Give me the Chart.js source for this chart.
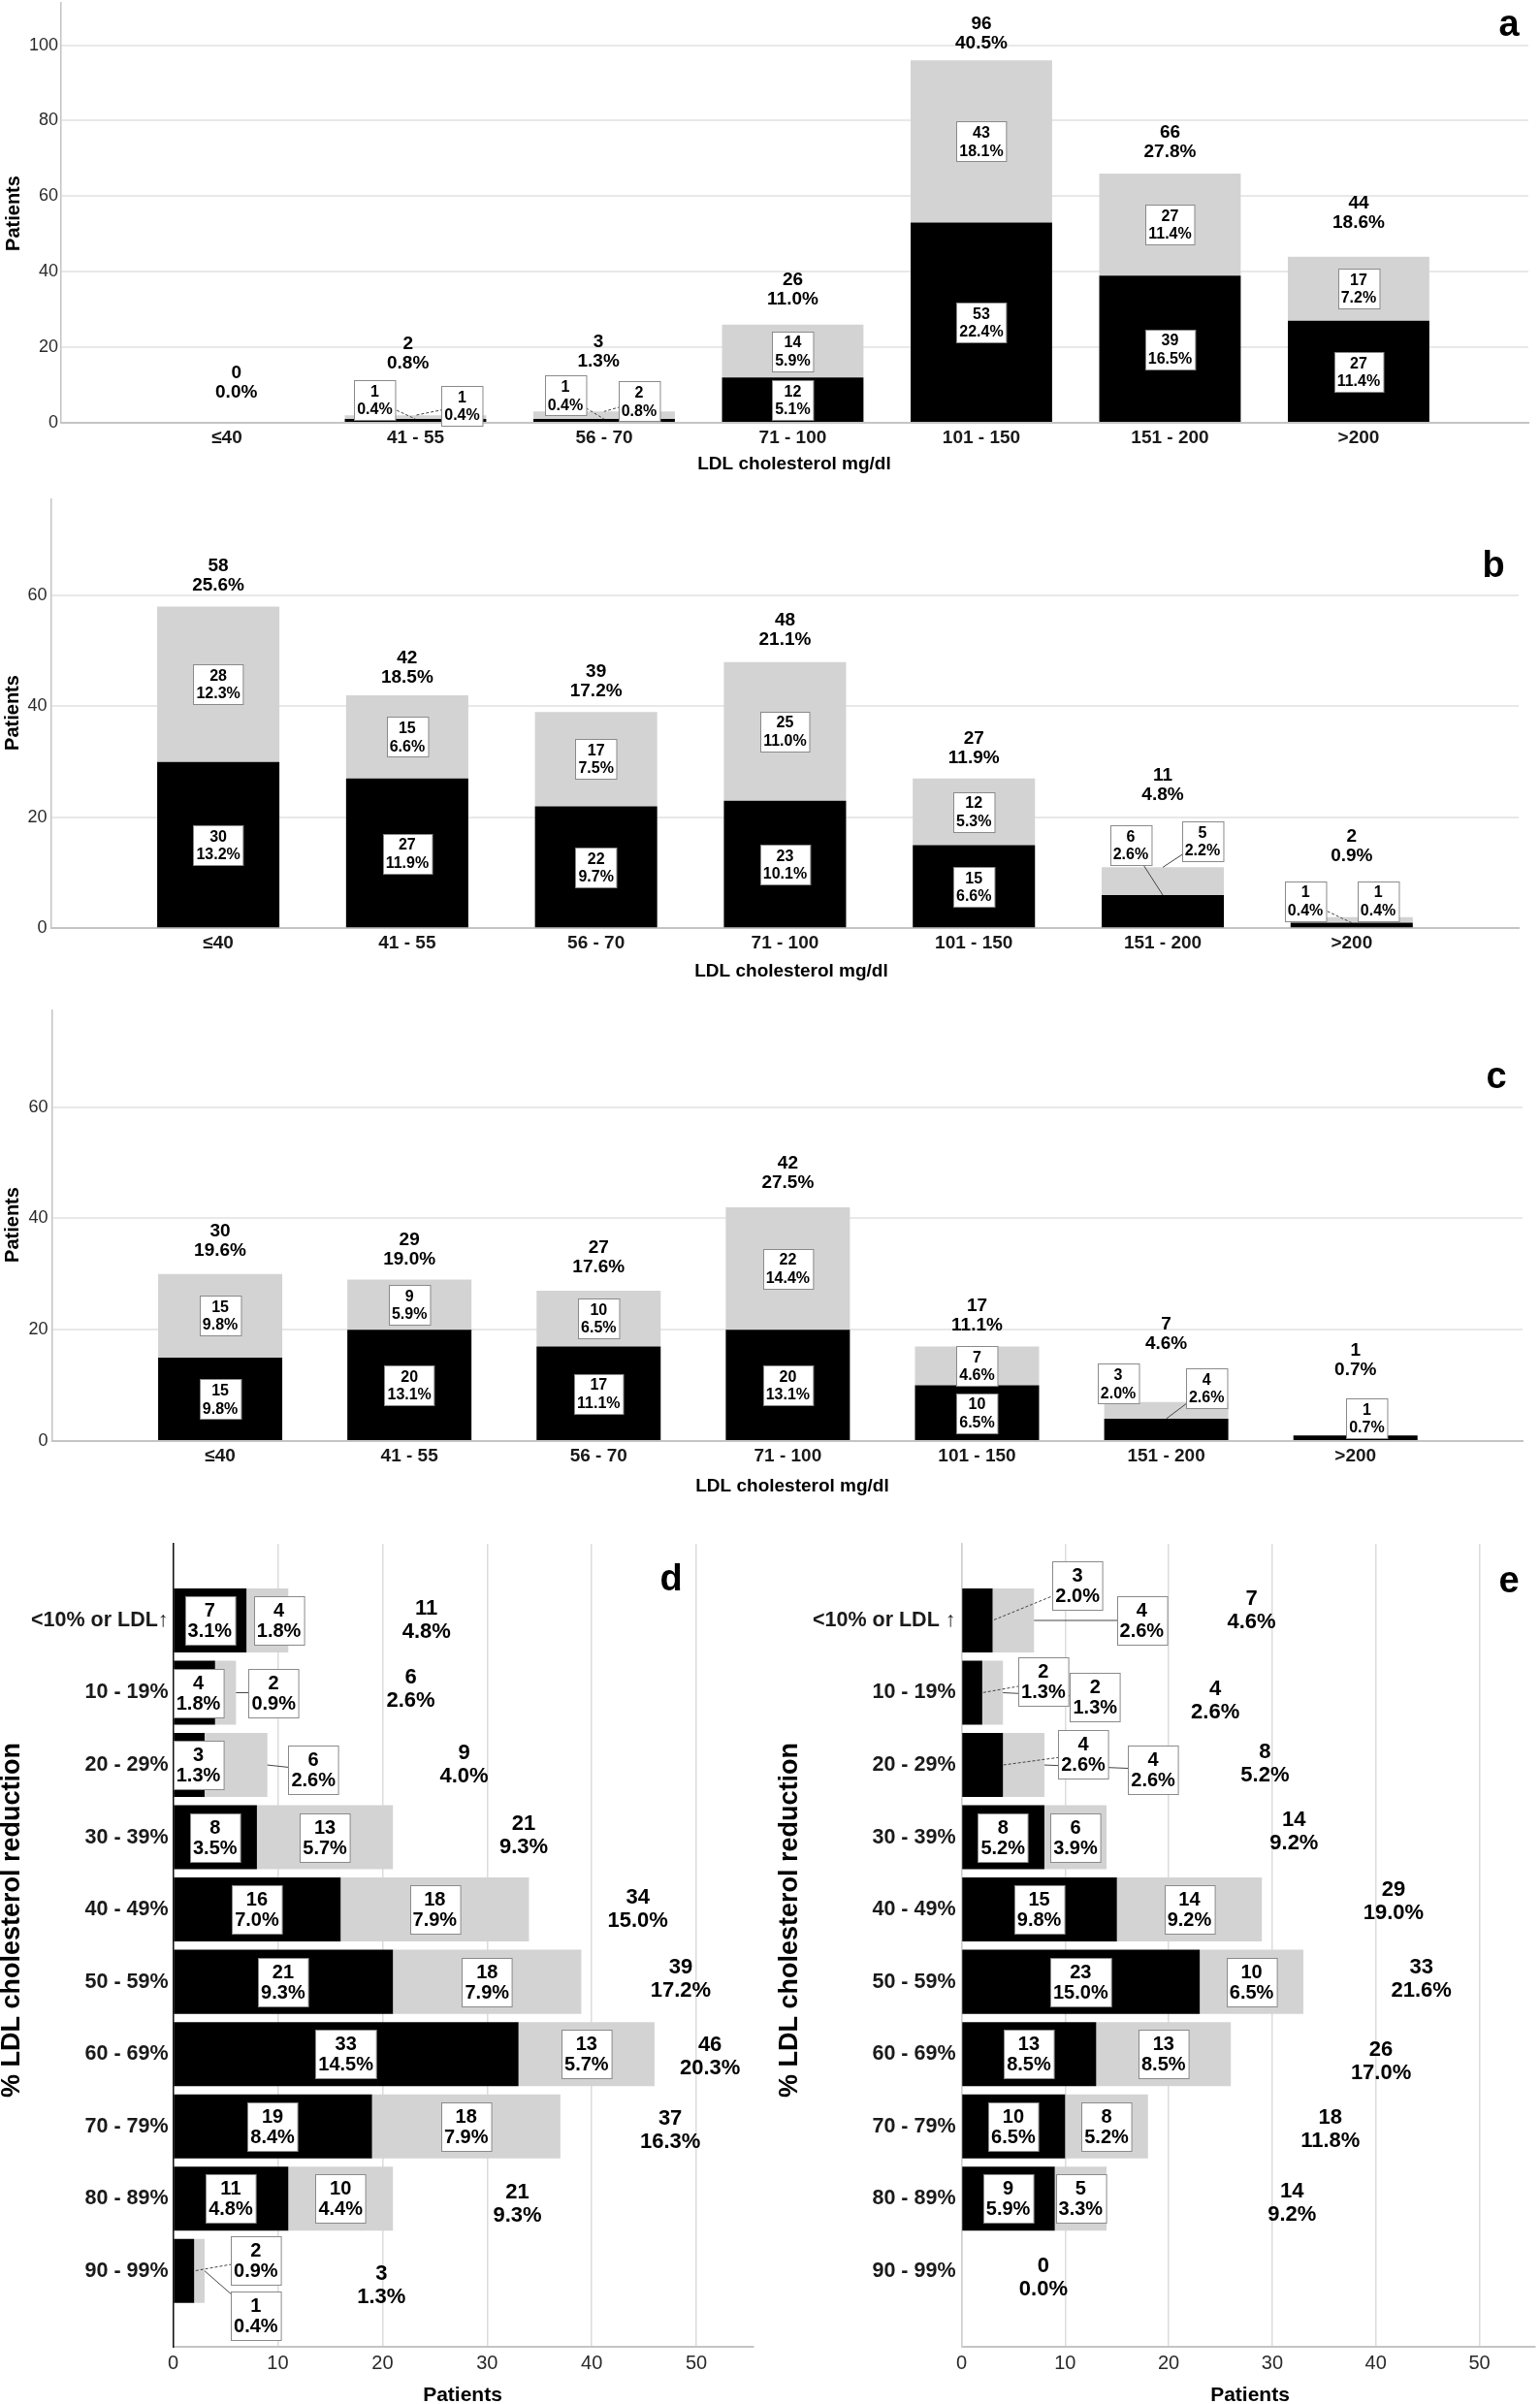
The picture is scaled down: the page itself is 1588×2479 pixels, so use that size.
<!DOCTYPE html>
<html>
<head>
<meta charset="utf-8">
<script src="https://cdn.jsdelivr.net/npm/chart.js@4.4.1/dist/chart.umd.min.js"></script>
<style>
html,body{margin:0;padding:0;background:#fff;}
body{width:1588px;height:2479px;position:relative;overflow:hidden;}
canvas{position:absolute;display:block;}
</style>
</head>
<body>
<canvas id="cA" width="1588" height="500" style="left:0;top:0"></canvas>
<canvas id="cB" width="1588" height="530" style="left:0;top:500px"></canvas>
<canvas id="cC" width="1588" height="530" style="left:0;top:1030px"></canvas>
<canvas id="cD" width="790" height="919" style="left:0;top:1560px"></canvas>
<canvas id="cE" width="798" height="919" style="left:790px;top:1560px"></canvas>
<script>
// ---------------- DATA ----------------
const ldlCategories = ['≤40', '41 - 55', '56 - 70', '71 - 100', '101 - 150', '151 - 200', '>200'];
const patientTicksA = [0, 20, 40, 60, 80, 100];
const patientTicksBC = [0, 20, 40, 60];

const aBlack = [0, 1, 1, 12, 53, 39, 27];
const aBlackPct = [0.0, 0.4, 0.4, 5.1, 22.4, 16.5, 11.4];
const aGray = [0, 1, 2, 14, 43, 27, 17];
const aGrayPct = [0.0, 0.4, 0.8, 5.9, 18.1, 11.4, 7.2];
const aTotal = [0, 2, 3, 26, 96, 66, 44];
const aTotalPct = [0.0, 0.8, 1.3, 11.0, 40.5, 27.8, 18.6];

const bBlack = [30, 27, 22, 23, 15, 6, 1];
const bBlackPct = [13.2, 11.9, 9.7, 10.1, 6.6, 2.6, 0.4];
const bGray = [28, 15, 17, 25, 12, 5, 1];
const bGrayPct = [12.3, 6.6, 7.5, 11.0, 5.3, 2.2, 0.4];
const bTotal = [58, 42, 39, 48, 27, 11, 2];
const bTotalPct = [25.6, 18.5, 17.2, 21.1, 11.9, 4.8, 0.9];

const cBlack = [15, 20, 17, 20, 10, 4, 1];
const cBlackPct = [9.8, 13.1, 11.1, 13.1, 6.5, 2.6, 0.7];
const cGray = [15, 9, 10, 22, 7, 3, 0];
const cGrayPct = [9.8, 5.9, 6.5, 14.4, 4.6, 2.0, 0.0];
const cTotal = [30, 29, 27, 42, 17, 7, 1];
const cTotalPct = [19.6, 19.0, 17.6, 27.5, 11.1, 4.6, 0.7];

const reductionCategoriesD = ['<10% or LDL↑', '10 - 19%', '20 - 29%', '30 - 39%', '40 - 49%', '50 - 59%', '60 - 69%', '70 - 79%', '80 - 89%', '90 - 99%'];
const reductionCategoriesE = ['<10% or LDL ↑', '10 - 19%', '20 - 29%', '30 - 39%', '40 - 49%', '50 - 59%', '60 - 69%', '70 - 79%', '80 - 89%', '90 - 99%'];
const patientTicksDE = [0, 10, 20, 30, 40, 50];

const dBlack = [7, 4, 3, 8, 16, 21, 33, 19, 11, 2];
const dBlackPct = [3.1, 1.8, 1.3, 3.5, 7.0, 9.3, 14.5, 8.4, 4.8, 0.9];
const dGray = [4, 2, 6, 13, 18, 18, 13, 18, 10, 1];
const dGrayPct = [1.8, 0.9, 2.6, 5.7, 7.9, 7.9, 5.7, 7.9, 4.4, 0.4];
const dTotal = [11, 6, 9, 21, 34, 39, 46, 37, 21, 3];
const dTotalPct = [4.8, 2.6, 4.0, 9.3, 15.0, 17.2, 20.3, 16.3, 9.3, 1.3];

const eBlack = [3, 2, 4, 8, 15, 23, 13, 10, 9, 0];
const eBlackPct = [2.0, 1.3, 2.6, 5.2, 9.8, 15.0, 8.5, 6.5, 5.9, 0.0];
const eGray = [4, 2, 4, 6, 14, 10, 13, 8, 5, 0];
const eGrayPct = [2.6, 1.3, 2.6, 3.9, 9.2, 6.5, 8.5, 5.2, 3.3, 0.0];
const eTotal = [7, 4, 8, 14, 29, 33, 26, 18, 14, 0];
const eTotalPct = [4.6, 2.6, 5.2, 9.2, 19.0, 21.6, 17.0, 11.8, 9.2, 0.0];

// ---------------- LABEL LAYOUT (annotation placement, in axis units) ----------------
const placeA = {'0:1': {i: 0.784, v: 6.0, leader: 'dash'}, '1:1': {i: 1.247, v: 4.5, leader: 'dash'},
                '0:2': {i: 1.794, v: 7.2, leader: 'dash'}, '1:2': {i: 2.185, v: 5.65, leader: 'dash'}};
const totalPosA = {i: [0.05, 0.96, 1.97, 3, 4, 5, 6], v: [10.5, 18.2, 18.9, 35.2, 103, 74.2, 55.5]};
const placeB = {'0:5': {i: 4.83, v: 15.0, leader: 'solid'}, '1:5': {i: 5.21, v: 15.7, leader: 'solid'},
                '0:6': {i: 5.755, v: 4.94, leader: 'dash'}, '1:6': {i: 6.14, v: 4.94}};
const totalPosB = {i: [0, 1, 2, 3, 4, 5, 6], v: [63.6, 47.0, 44.5, 53.7, 32.4, 25.7, 14.7]};
const placeC = {'1:5': {i: 4.746, v: 10.3}, '0:5': {i: 5.213, v: 9.46, leader: 'solid'}, '0:6': {i: 6.06, v: 4.1}};
const totalPosC = {i: [0, 1, 2, 3, 4, 5, 6], v: [35.9, 34.4, 33.0, 48.1, 22.5, 19.2, 14.5]};
const placeD = {'1:0': {v: 10.1}, '0:1': {v: 2.4}, '1:1': {v: 9.6, leader: 'solid'}, '0:2': {v: 2.4},
                '1:2': {i: 2.07, v: 13.4, leader: 'solid'}, '0:9': {i: 8.85, v: 7.9, leader: 'dash'},
                '1:9': {i: 9.62, v: 7.9, leader: 'solid'}};
const totalPosD = {i: [0, 0.95, 2, 2.98, 4, 4.97, 6.04, 7.06, 8.08, 9.2], v: [24.2, 22.7, 27.8, 33.5, 44.4, 48.5, 51.3, 47.5, 32.9, 19.9]};
const placeE = {'0:0': {i: -0.48, v: 11.2, leader: 'dash'}, '1:0': {i: 0, v: 17.4, leader: 'solid'},
                '0:1': {i: 0.85, v: 7.9, leader: 'dash'}, '1:1': {i: 1.06, v: 12.9, leader: 'solid'},
                '0:2': {i: 1.85, v: 11.75, leader: 'dash'}, '1:2': {i: 2.06, v: 18.5, leader: 'solid'}};
const totalPosE = {i: [-0.13, 1.11, 1.98, 2.93, 3.89, 4.96, 6.1, 7.05, 8.07, 9.09], v: [28.0, 24.5, 29.3, 32.1, 41.7, 44.4, 40.5, 35.6, 31.9, 7.9]};

// ---------------- RENDERING ----------------
const FAM = "'Liberation Sans', Arial, Helvetica, sans-serif";
const BLACK = '#000000', GRAY = '#d3d3d3';

function overlayPlugin(cfg) {
  return {
    id: 'overlay',
    afterDatasetsDraw(chart) {
      const ctx = chart.ctx;
      const horiz = chart.options.indexAxis === 'y';
      const iS = horiz ? chart.scales.y : chart.scales.x;
      const vS = horiz ? chart.scales.x : chart.scales.y;
      const px = (i, v) => horiz ? [vS.getPixelForValue(v), iS.getPixelForValue(i)]
                                 : [iS.getPixelForValue(i), vS.getPixelForValue(v)];
      ctx.save();
      const segs = [];
      cfg.series.forEach((ser, d) => {
        ser.n.forEach((n, i) => {
          if (!n) return;
          const start = d === 0 ? 0 : cfg.series[0].n[i];
          const end = start + n;
          const ov = cfg.place[d + ':' + i] || {};
          const ci = ov.i !== undefined ? ov.i : i;
          const cv = ov.v !== undefined ? ov.v : (start + end) / 2;
          const [x, y] = px(ci, cv);
          let leader = null;
          if (ov.leader) {
            const [lx, ly] = px(i, end);
            leader = {lx, ly, dash: ov.leader === 'dash'};
          }
          segs.push({x, y, lines: [String(n), ser.pct[i].toFixed(1) + '%'], leader});
        });
      });
      ctx.lineWidth = 1;
      segs.forEach(s => {
        if (!s.leader) return;
        ctx.strokeStyle = '#444';
        ctx.setLineDash(s.leader.dash ? [3, 2] : []);
        ctx.beginPath(); ctx.moveTo(s.x, s.y); ctx.lineTo(s.leader.lx, s.leader.ly); ctx.stroke();
      });
      ctx.setLineDash([]);
      ctx.font = cfg.boxFont;
      ctx.textAlign = 'center'; ctx.textBaseline = 'middle';
      segs.forEach(s => {
        const w = Math.max(...s.lines.map(t => ctx.measureText(t).width)) + 2 * cfg.padX;
        const h = s.lines.length * cfg.lh + 2 * cfg.padY;
        const x0 = Math.round(s.x - w / 2) + 0.5, y0 = Math.round(s.y - h / 2) + 0.5;
        ctx.fillStyle = '#fff'; ctx.fillRect(x0, y0, w, h);
        ctx.strokeStyle = '#8a8a8a'; ctx.strokeRect(x0, y0, w, h);
        ctx.fillStyle = '#000';
        s.lines.forEach((t, k) => ctx.fillText(t, s.x, s.y + (k - (s.lines.length - 1) / 2) * cfg.lh + 1));
      });
      ctx.font = cfg.totalFont;
      ctx.fillStyle = '#000';
      cfg.total.forEach((n, i) => {
        const [x, y] = px(cfg.totalPos.i[i], cfg.totalPos.v[i]);
        ctx.fillText(String(n), x, y - cfg.totalLh / 2);
        ctx.fillText(cfg.totalPct[i].toFixed(1) + '%', x, y + cfg.totalLh / 2);
      });
      ctx.restore();
    },
    afterDraw(chart) {
      const ctx = chart.ctx;
      ctx.save();
      cfg.texts.forEach(t => {
        ctx.save();
        ctx.font = t.font; ctx.fillStyle = '#000';
        ctx.textAlign = 'center'; ctx.textBaseline = t.base || 'middle';
        ctx.translate(t.x, t.y);
        if (t.rot) ctx.rotate(t.rot);
        ctx.fillText(t.t, 0, 0);
        ctx.restore();
      });
      ctx.restore();
    }
  };
}

function verticalPanel(id, P) {
  const W = P.W, H = P.H, A = P.area;
  return new Chart(document.getElementById(id), {
    type: 'bar',
    data: {
      datasets: [
        {label: 'black', data: P.black.map((v, i) => ({x: i, y: v})), backgroundColor: BLACK, borderWidth: 0,
         barPercentage: P.barPct, categoryPercentage: 1},
        {label: 'gray', data: P.gray.map((v, i) => ({x: i, y: v})), backgroundColor: GRAY, borderWidth: 0,
         barPercentage: P.barPct, categoryPercentage: 1}
      ]
    },
    options: {
      responsive: false, animation: false, devicePixelRatio: 1,
      layout: {padding: {left: 0, top: A.top, right: W - A.right, bottom: 0}},
      plugins: {legend: {display: false}, tooltip: {enabled: false}},
      scales: {
        x: {
          type: 'linear', position: 'bottom', stacked: true, offset: false, min: P.xMin, max: P.xMax,
          afterBuildTicks: s => { s.ticks = P.cats.map((c, i) => ({value: i})); },
          afterFit: s => { s.height = H - A.bottom; s.paddingLeft = 0; s.paddingRight = 0; },
          ticks: {callback: v => P.cats[v], autoSkip: false, maxRotation: 0, minRotation: 0, padding: P.xTickPad,
                  font: {family: FAM, size: 19, weight: 'bold'}, color: '#1a1a1a'},
          grid: {display: false, drawTicks: false, offset: false},
          border: {display: true, color: '#c4c4c4', width: 2}
        },
        y: {
          type: 'linear', position: 'left', stacked: true, min: 0, max: P.yMax,
          afterBuildTicks: s => { s.ticks = P.yTicks.map(v => ({value: v})); },
          afterFit: s => { s.width = A.left; s.paddingTop = 0; s.paddingBottom = 0; },
          ticks: {padding: P.yTickPad, font: {family: FAM, size: 18}, color: '#2a2a2a'},
          grid: {color: '#e8e8e8', lineWidth: 2, drawTicks: false},
          border: {display: true, color: '#c4c4c4', width: 1.5}
        }
      }
    },
    plugins: [overlayPlugin({
      series: [{n: P.black, pct: P.blackPct}, {n: P.gray, pct: P.grayPct}],
      place: P.place, total: P.total, totalPct: P.totalPct, totalPos: P.totalPos,
      boxFont: 'bold 16px ' + FAM, lh: 18.5, padX: 3, padY: 2,
      totalFont: 'bold 19px ' + FAM, totalLh: 20,
      texts: P.texts
    })]
  });
}

function horizontalPanel(id, P) {
  const W = P.W, H = P.H, A = P.area;
  return new Chart(document.getElementById(id), {
    type: 'bar',
    data: {
      datasets: [
        {label: 'black', data: P.black.map((v, i) => ({x: v, y: i})), backgroundColor: BLACK, borderWidth: 0,
         barPercentage: P.barPct, categoryPercentage: 1},
        {label: 'gray', data: P.gray.map((v, i) => ({x: v, y: i})), backgroundColor: GRAY, borderWidth: 0,
         barPercentage: P.barPct, categoryPercentage: 1}
      ]
    },
    options: {
      indexAxis: 'y',
      responsive: false, animation: false, devicePixelRatio: 1,
      layout: {padding: {left: 0, top: A.top, right: W - A.right, bottom: 0}},
      plugins: {legend: {display: false}, tooltip: {enabled: false}},
      scales: {
        x: {
          type: 'linear', position: 'bottom', stacked: true, min: 0, max: P.xMax,
          afterBuildTicks: s => { s.ticks = P.xTicks.map(v => ({value: v})); },
          afterFit: s => { s.height = H - A.bottom; s.paddingLeft = 0; s.paddingRight = 0; },
          ticks: {padding: 5, font: {family: FAM, size: 20}, color: '#2a2a2a', maxRotation: 0},
          grid: {color: '#dcdcdc', lineWidth: 1.5, drawTicks: false},
          border: {display: true, color: '#c4c4c4', width: 2}
        },
        y: {
          type: 'linear', position: 'left', stacked: true, offset: false, reverse: true,
          min: P.iMin, max: P.iMax,
          afterBuildTicks: s => { s.ticks = P.cats.map((c, i) => ({value: i})); },
          afterFit: s => { s.width = A.left; s.paddingTop = 0; s.paddingBottom = 0; },
          ticks: {callback: v => P.cats[v], autoSkip: false, padding: P.yTickPad,
                  font: {family: FAM, size: 21.5, weight: 'bold'}, color: '#1a1a1a'},
          grid: {display: false, drawTicks: false, offset: false},
          border: {display: true, color: P.axisColor, width: 1.5}
        }
      }
    },
    plugins: [overlayPlugin({
      series: [{n: P.black, pct: P.blackPct}, {n: P.gray, pct: P.grayPct}],
      place: P.place, total: P.total, totalPct: P.totalPct, totalPos: P.totalPos,
      boxFont: 'bold 20px ' + FAM, lh: 21, padX: 3, padY: 4,
      totalFont: 'bold 22px ' + FAM, totalLh: 24,
      texts: P.texts
    })]
  });
}

const ROT = -Math.PI / 2;
const fTitle = 'bold 20px ' + FAM, fLetter = 'bold 38px ' + FAM;

verticalPanel('cA', {
  W: 1588, H: 500, area: {left: 63, right: 1576, top: 3, bottom: 436},
  cats: ldlCategories, yTicks: patientTicksA, yMax: 111.2, xMin: -0.879, xMax: 6.9, barPct: 0.75,
  xTickPad: 4, yTickPad: 3,
  black: aBlack, blackPct: aBlackPct, gray: aGray, grayPct: aGrayPct,
  total: aTotal, totalPct: aTotalPct, totalPos: totalPosA, place: placeA,
  texts: [
    {t: 'Patients', x: 14, y: 220, rot: ROT, font: fTitle},
    {t: 'LDL cholesterol mg/dl', x: 819, y: 479, font: 'bold 19px ' + FAM},
    {t: 'a', x: 1556, y: 37, base: 'alphabetic', font: fLetter}
  ]
});

verticalPanel('cB', {
  W: 1588, H: 530, area: {left: 52.5, right: 1566, top: 15, bottom: 457.3},
  cats: ldlCategories, yTicks: patientTicksBC, yMax: 77.3, xMin: -0.886, xMax: 6.884, barPct: 0.647,
  xTickPad: 4, yTickPad: 4,
  black: bBlack, blackPct: bBlackPct, gray: bGray, grayPct: bGrayPct,
  total: bTotal, totalPct: bTotalPct, totalPos: totalPosB, place: placeB,
  texts: [
    {t: 'Patients', x: 13, y: 235, rot: ROT, font: fTitle},
    {t: 'LDL cholesterol mg/dl', x: 816, y: 502, font: 'bold 19px ' + FAM},
    {t: 'b', x: 1540, y: 95, base: 'alphabetic', font: fLetter}
  ]
});

verticalPanel('cC', {
  W: 1588, H: 530, area: {left: 53.6, right: 1570, top: 11.7, bottom: 456},
  cats: ldlCategories, yTicks: patientTicksBC, yMax: 77.4, xMin: -0.889, xMax: 6.883, barPct: 0.656,
  xTickPad: 4, yTickPad: 4,
  black: cBlack, blackPct: cBlackPct, gray: cGray, grayPct: cGrayPct,
  total: cTotal, totalPct: cTotalPct, totalPos: totalPosC, place: placeC,
  texts: [
    {t: 'Patients', x: 13, y: 233, rot: ROT, font: fTitle},
    {t: 'LDL cholesterol mg/dl', x: 817, y: 503, font: 'bold 19px ' + FAM},
    {t: 'c', x: 1543, y: 92, base: 'alphabetic', font: fLetter}
  ]
});

horizontalPanel('cD', {
  W: 790, H: 919, area: {left: 178.6, right: 777, top: 32, bottom: 860},
  cats: reductionCategoriesD, xTicks: patientTicksDE, xMax: 55.46, iMin: -1.06, iMax: 10.05, barPct: 0.886,
  yTickPad: 5, axisColor: '#111',
  black: dBlack, blackPct: dBlackPct, gray: dGray, grayPct: dGrayPct,
  total: dTotal, totalPct: dTotalPct, totalPos: totalPosD, place: placeD,
  texts: [
    {t: '% LDL cholesterol reduction', x: 13, y: 420, rot: ROT, font: 'bold 27px ' + FAM},
    {t: 'Patients', x: 477, y: 910, font: 'bold 21px ' + FAM},
    {t: 'd', x: 692, y: 80, base: 'alphabetic', font: fLetter}
  ]
});

horizontalPanel('cE', {
  W: 798, H: 919, area: {left: 201.5, right: 793, top: 32, bottom: 860},
  cats: reductionCategoriesE, xTicks: patientTicksDE, xMax: 55.38, iMin: -1.06, iMax: 10.05, barPct: 0.886,
  yTickPad: 6, axisColor: '#cfcfcf',
  black: eBlack, blackPct: eBlackPct, gray: eGray, grayPct: eGrayPct,
  total: eTotal, totalPct: eTotalPct, totalPos: totalPosE, place: placeE,
  texts: [
    {t: '% LDL cholesterol reduction', x: 25, y: 420, rot: ROT, font: 'bold 27px ' + FAM},
    {t: 'Patients', x: 499, y: 910, font: 'bold 21px ' + FAM},
    {t: 'e', x: 766, y: 82, base: 'alphabetic', font: fLetter}
  ]
});
</script>
</body>
</html>
